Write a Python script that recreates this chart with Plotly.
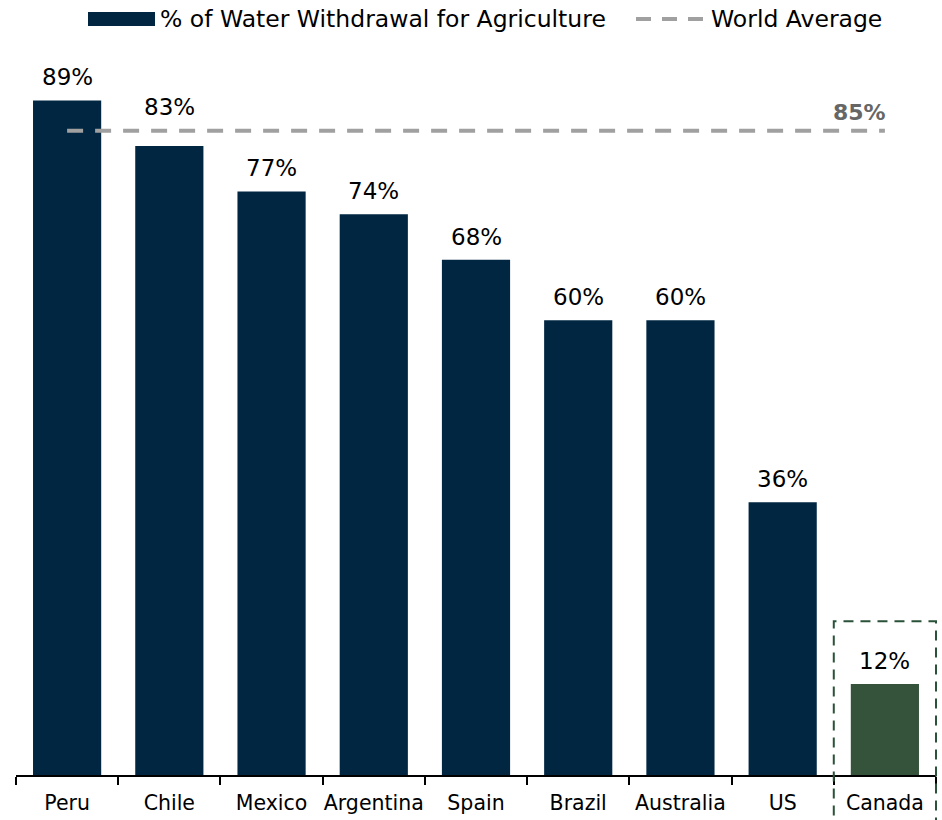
import plotly.graph_objects as go

countries = ["Peru", "Chile", "Mexico", "Argentina", "Spain", "Brazil", "Australia", "US", "Canada"]
values = [89, 83, 77, 74, 68, 60, 60, 36, 12]
world_avg = 85
series_name = "% of Water Withdrawal for Agriculture"
avg_name = "World Average"

NAVY = "#002642"
GREEN = "#34533a"
GRAY = "#a0a0a0"
FONT = "Verdana, DejaVu Sans, sans-serif"

W, H = 942, 820
ML, MR, MT, MB = 16, 6, 55, 45
YMAX = 95
PW, PH = W - ML - MR, H - MT - MB


def px_x(px):
    return (px - ML) / PW


def px_y(py):
    return (H - MB - py) / PH


colors = [GREEN if c == "Canada" else NAVY for c in countries]

fig = go.Figure()
fig.add_trace(go.Bar(
    x=countries, y=values, marker=dict(color=colors, line=dict(width=0)),
    name=series_name, showlegend=False, hoverinfo="x+y",
))

# data labels (lifted above the average line when they would collide with it)
for c, v in zip(countries, values):
    shift = 8
    if v < world_avg and world_avg - v < 4:
        shift = 24
    fig.add_annotation(x=c, y=v, text=f"{v}%", showarrow=False, xref="x", yref="y",
                       yanchor="bottom", yshift=shift, font=dict(size=23, color="#000000", family=FONT))

# world average line
fig.add_shape(type="line", xref="x", yref="y", x0=0, x1=len(countries) - 1, y0=world_avg, y1=world_avg,
              line=dict(color=GRAY, width=4, dash="16px,12px"), layer="above")
fig.add_annotation(x=countries[-1], y=world_avg, xref="x", yref="y", text=f"<b>{world_avg}%</b>",
                   showarrow=False, xanchor="right", yanchor="bottom", yshift=4, xshift=3,
                   font=dict(size=22, color="#666666", family=FONT))

# Canada highlight box
n = len(countries)
canada_idx = countries.index("Canada")
fig.add_shape(type="rect", xref="paper", yref="paper",
              x0=canada_idx / n, x1=(canada_idx + 1) / n,
              y0=-0.12, y1=(values[canada_idx] + 8.3) / YMAX,
              line=dict(color="#2a5238", width=2, dash="10px,7px"), fillcolor="rgba(0,0,0,0)", layer="above")

# custom legend
fig.add_shape(type="rect", xref="paper", yref="paper", x0=px_x(88), x1=px_x(155), y0=px_y(26), y1=px_y(12),
              fillcolor=NAVY, line=dict(width=0))
fig.add_annotation(xref="paper", yref="paper", x=px_x(158), y=px_y(19), text=series_name, showarrow=False,
                   xanchor="left", yanchor="middle", font=dict(size=23.5, color="#000000", family=FONT))
fig.add_shape(type="line", xref="paper", yref="paper", x0=px_x(636), x1=px_x(706), y0=px_y(19), y1=px_y(19),
              line=dict(color=GRAY, width=4, dash="15px,11px"))
fig.add_annotation(xref="paper", yref="paper", x=px_x(709), y=px_y(19), text=avg_name, showarrow=False,
                   xanchor="left", yanchor="middle", font=dict(size=23.5, color="#000000", family=FONT))

fig.update_layout(
    width=W, height=H, margin=dict(l=ML, r=MR, t=MT, b=MB, autoexpand=False),
    paper_bgcolor="white", plot_bgcolor="white", bargap=0.333,
    font=dict(family=FONT, color="#000000"), showlegend=False,
)
fig.update_xaxes(type="category", tickson="boundaries", ticks="outside", ticklen=8, tickwidth=1.5,
                 tickcolor="#000000", showline=True, linecolor="#000000", linewidth=1.5,
                 showgrid=False, ticklabelstandoff=9, tickangle=0, automargin=False,
                 tickfont=dict(size=20.5, color="#000000", family=FONT))
fig.update_yaxes(range=[0, YMAX], visible=False, showgrid=False, zeroline=False, automargin=False)

fig.write_html("out.html")
